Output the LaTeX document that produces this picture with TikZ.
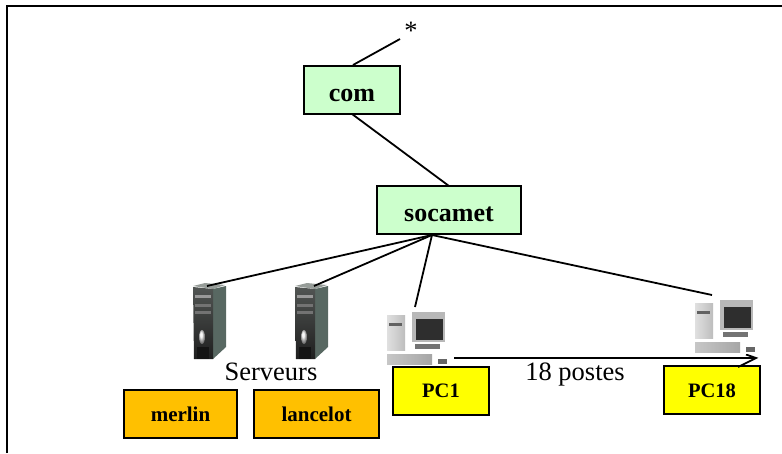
\documentclass[tikz,border=0pt]{standalone}
\usepackage{fontspec}
\setmainfont{Liberation Serif}
\definecolor{gb}{RGB}{204,255,204}
\definecolor{ob}{RGB}{255,192,0}
\definecolor{yb}{RGB}{255,255,0}
\definecolor{towerside}{RGB}{88,104,98}
\definecolor{towerfront}{RGB}{62,66,64}
\definecolor{towertop}{RGB}{150,156,152}
\tikzset{
  lnk/.style={draw=black,line width=1.8pt},
  lab/.style={draw=black,line width=2pt,inner sep=0pt,outer sep=0pt,anchor=north west},
  greenbox/.style={lab,fill=gb,minimum width=#1,minimum height=48pt,font=\fontsize{26}{30}\bfseries\selectfont},
  orangebox/.style={lab,fill=ob,minimum width=#1,minimum height=48pt,font=\fontsize{21}{25}\bfseries\selectfont},
  yellowbox/.style={lab,fill=yb,minimum width=96pt,minimum height=48pt,font=\fontsize{20.5}{25}\bfseries\selectfont},
  txt/.style={font=\fontsize{26.5}{30}\selectfont,inner sep=0pt}
}
\newcommand{\lift}[2]{\raisebox{-#1pt}[\height][\depth]{#2}}
\newcommand{\towerpc}[1]{%
  \begin{scope}[shift={#1}]
    \fill[towertop] (2,1) -- (14,-2) -- (34,0) -- (22,4) -- cycle;
    \fill[towerside] (22,4) -- (35,1) -- (35,62) -- (22,74) -- cycle;
    \shade[top color=towerfront!90,bottom color=black!88] (2,2) -- (22,4) -- (22,74) -- (3,74) -- cycle;
    \fill[black!40] (4,10) rectangle (20,13);
    \fill[black!55] (4,19) rectangle (20,22);
    \fill[black!55] (4,26) rectangle (20,29);
    \shade[ball color=white!85!gray] (11,52) ellipse (3pt and 7pt);
    \fill[black!92] (6,62) rectangle (18,74);
  \end{scope}}
\newcommand{\deskpc}[1]{%
  \begin{scope}[shift={#1}]
    \fill[white] (0,0) rectangle (76,60);
    \shade[left color=black!12,right color=black!26] (9,9) rectangle (27,44);
    \fill[black!62] (11,17) rectangle (24,20);
    \fill[black!28] (34,6) rectangle (67,36);
    \fill[black!82] (38,13) rectangle (65,34);
    \fill[black!55] (37,38) rectangle (62,43);
    \shade[left color=black!22,right color=black!35] (9,48) rectangle (54,58);
    \fill[black!60] (60,53) rectangle (69,58);
  \end{scope}}
\begin{document}
\begin{tikzpicture}[x=1pt,y=-1pt]
\useasboundingbox (0,0) rectangle (782,453);
\fill[white] (0,0) rectangle (782,453);
\draw[line width=2pt] (7,453) -- (7,6) -- (782,6);
\node[greenbox=96pt] (com) at (304,66) {\lift{5}{com}};
\node[greenbox=144pt] (soc) at (377,186) {\lift{4}{socamet}};
\node[orangebox=113pt] (merlin) at (124,390) {merlin};
\node[orangebox=125pt] (lancelot) at (254,390) {lancelot};
\node[yellowbox] (pc1) at (393,366.5) {PC1};
\node[yellowbox] (pc18) at (664,366) {\lift{1}{PC18}};
\node[txt] (star) at (411,31) {*};
\coordinate (starend) at (400,39);
\coordinate (comtop) at (353,65);
\coordinate (combot) at (352,114);
\coordinate (soctop) at (449,186);
\coordinate (hub) at (432,235);
\coordinate (s1) at (207,286);
\coordinate (s2) at (314,286);
\coordinate (p1) at (415,307);
\coordinate (p18) at (712,295);
\coordinate (a) at (454,358);
\coordinate (b) at (756,358);
\coordinate (barbup) at (746,354.5);
\coordinate (barbdown) at (738,367);
\node[txt] (serv) at (271,372) {Serveurs};
\node[txt] (post) at (575,374.5) {18 postes};
\draw[lnk] (starend) -- (comtop);
\draw[lnk] (combot) -- (soctop);
\draw[lnk] (a) -- (b);
\draw[lnk] (barbup) -- (b) -- (barbdown);
\towerpc{(191,285)}
\towerpc{(293,285)}
\deskpc{(378,306)}
\deskpc{(686,294)}
\draw[lnk] (hub) -- (s1);
\draw[lnk] (hub) -- (s2);
\draw[lnk] (hub) -- (p1);
\draw[lnk] (hub) -- (p18);
\end{tikzpicture}
\end{document}
